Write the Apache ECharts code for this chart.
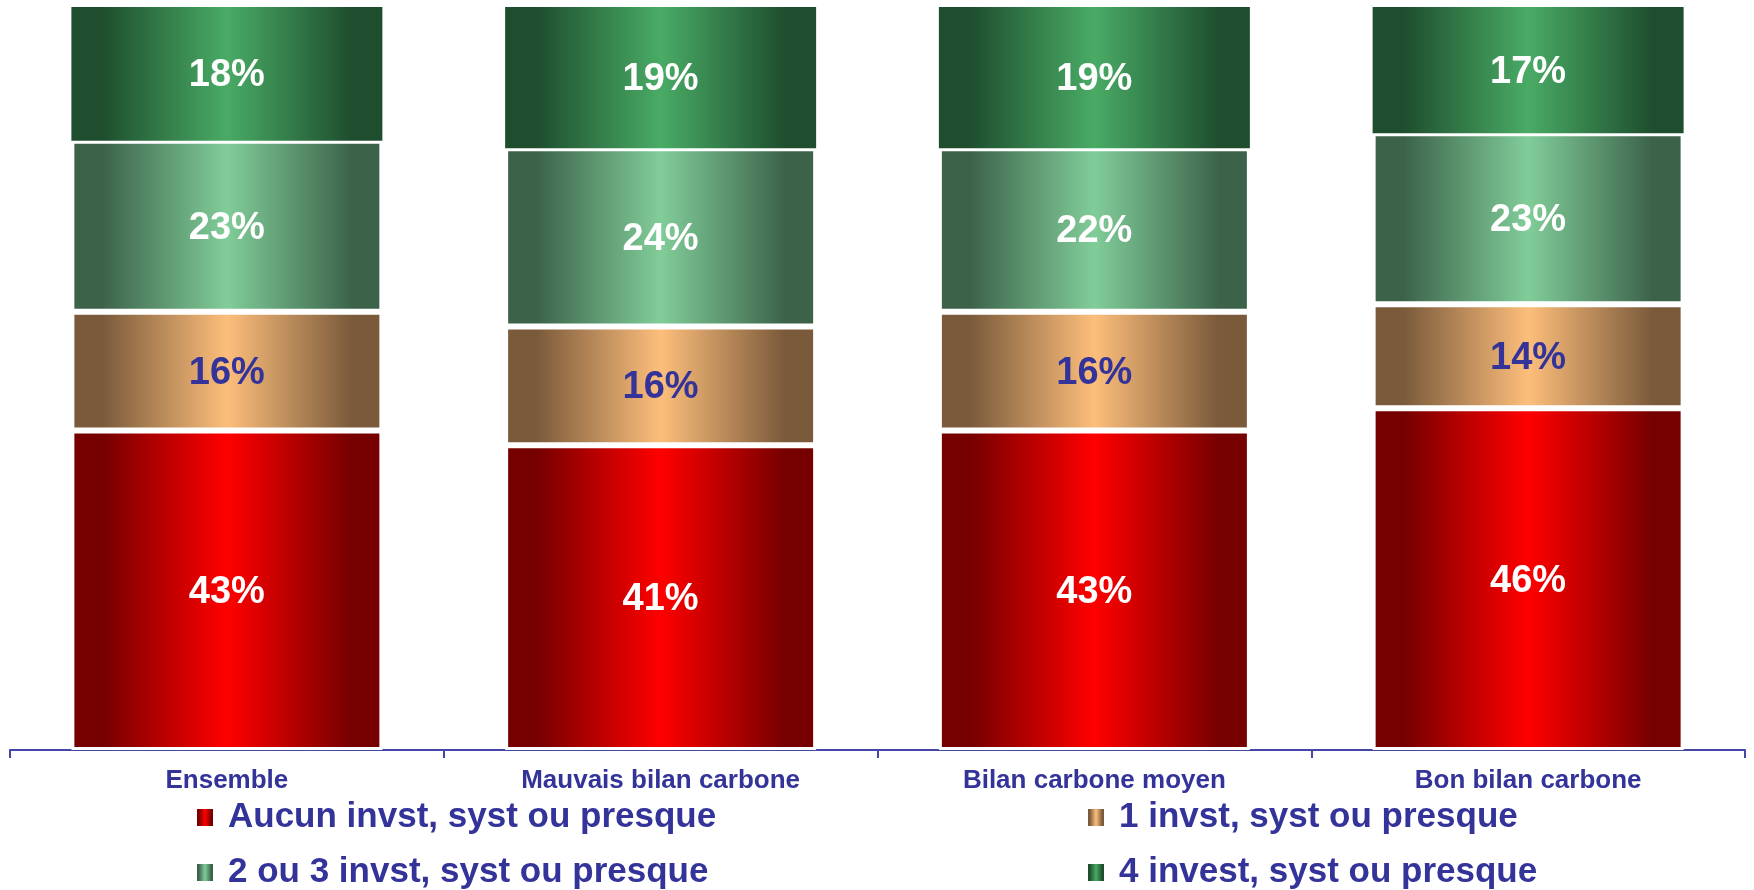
<!DOCTYPE html>
<html>
<head>
<meta charset="utf-8">
<script src="https://cdn.jsdelivr.net/npm/echarts@6/dist/echarts.min.js"></script>
<style>
  html, body { margin: 0; padding: 0; background: #ffffff; }
  #chart { width: 1754px; height: 890px; }
</style>
</head>
<body>
<div id="chart"></div>
<script>
// Groups shown along the horizontal axis
const categories = ['Ensemble', 'Mauvais bilan carbone', 'Bilan carbone moyen', 'Bon bilan carbone'];

// Share of respondents (%) per number of investments
const seriesNames = [
  'Aucun invst, syst ou presque',
  '1 invst, syst ou presque',
  '2 ou 3 invst, syst ou presque',
  '4 invest, syst ou presque'
];
const aucun     = [43, 41, 43, 46];
const un        = [16, 16, 16, 14];
const deuxTrois = [23, 24, 22, 23];
const quatre    = [18, 19, 19, 17];

const seriesValues = [aucun, un, deuxTrois, quatre];

const INK = '#333399';
const SANS = '"Liberation Sans", Arial, Helvetica, sans-serif';

// Horizontal "cylinder" shading: dark edges, bright middle
function shade(edge, centre) {
  return {
    type: 'linear', x: 0, y: 0, x2: 1, y2: 0,
    colorStops: [
      { offset: 0, color: edge },
      { offset: 0.1, color: edge },
      { offset: 0.5, color: centre },
      { offset: 0.9, color: edge },
      { offset: 1, color: edge }
    ]
  };
}

const fills = [
  shade('#760000', '#ff0000'),
  shade('#7a5a3b', '#fdbe7b'),
  shade('#3c634a', '#81cd99'),
  shade('#1e4e2e', '#49ab65')
];
const labelColors = ['#ffffff', INK, '#ffffff', '#ffffff'];
const borders = [3, 3, 3, 0];

const chart = echarts.init(document.getElementById('chart'), null, { renderer: 'canvas' });

const series = seriesNames.map((name, i) => ({
  name: name,
  type: 'bar',
  stack: 'total',
  barWidth: '71.7%',
  data: seriesValues[i],
  itemStyle: {
    color: fills[i],
    borderColor: '#ffffff',
    borderWidth: borders[i]
  },
  label: {
    show: true,
    position: 'inside',
    offset: [0, 2],
    formatter: '{c}%',
    color: labelColors[i],
    fontFamily: SANS,
    fontWeight: 'bold',
    fontSize: 38
  },
  emphasis: { disabled: true }
}));

// One legend entry per slot of the 2 x 2 key under the axis
const legendSlots = [
  { name: seriesNames[0], left: 197, top: 800 },
  { name: seriesNames[1], left: 1088, top: 800 },
  { name: seriesNames[2], left: 197, top: 855 },
  { name: seriesNames[3], left: 1088, top: 855 }
];

const legends = legendSlots.map(slot => ({
  data: [slot.name],
  orient: 'horizontal',
  left: slot.left,
  top: slot.top,
  padding: 0,
  itemWidth: 16,
  itemHeight: 17,
  icon: 'rect',
  selectedMode: false,
  itemStyle: { borderWidth: 0 },
  textStyle: {
    color: INK,
    fontFamily: SANS,
    fontWeight: 'bold',
    fontSize: 35,
    lineHeight: 30,
    padding: [0, 0, 0, 10]
  }
}));

chart.setOption({
  backgroundColor: '#ffffff',
  animation: false,
  grid: { left: 10, right: 9, top: 7, bottom: 140, containLabel: false },
  xAxis: {
    type: 'category',
    data: categories,
    axisLine: { show: true, lineStyle: { color: '#4646a8', width: 2 } },
    axisTick: { show: true, length: 8, lineStyle: { color: '#4646a8', width: 2 } },
    axisLabel: {
      color: INK,
      fontFamily: SANS,
      fontWeight: 'bold',
      fontSize: 26,
      margin: 18
    }
  },
  yAxis: {
    type: 'value',
    min: 0,
    max: 100,
    show: false
  },
  legend: legends,
  series: series
});
</script>
</body>
</html>
